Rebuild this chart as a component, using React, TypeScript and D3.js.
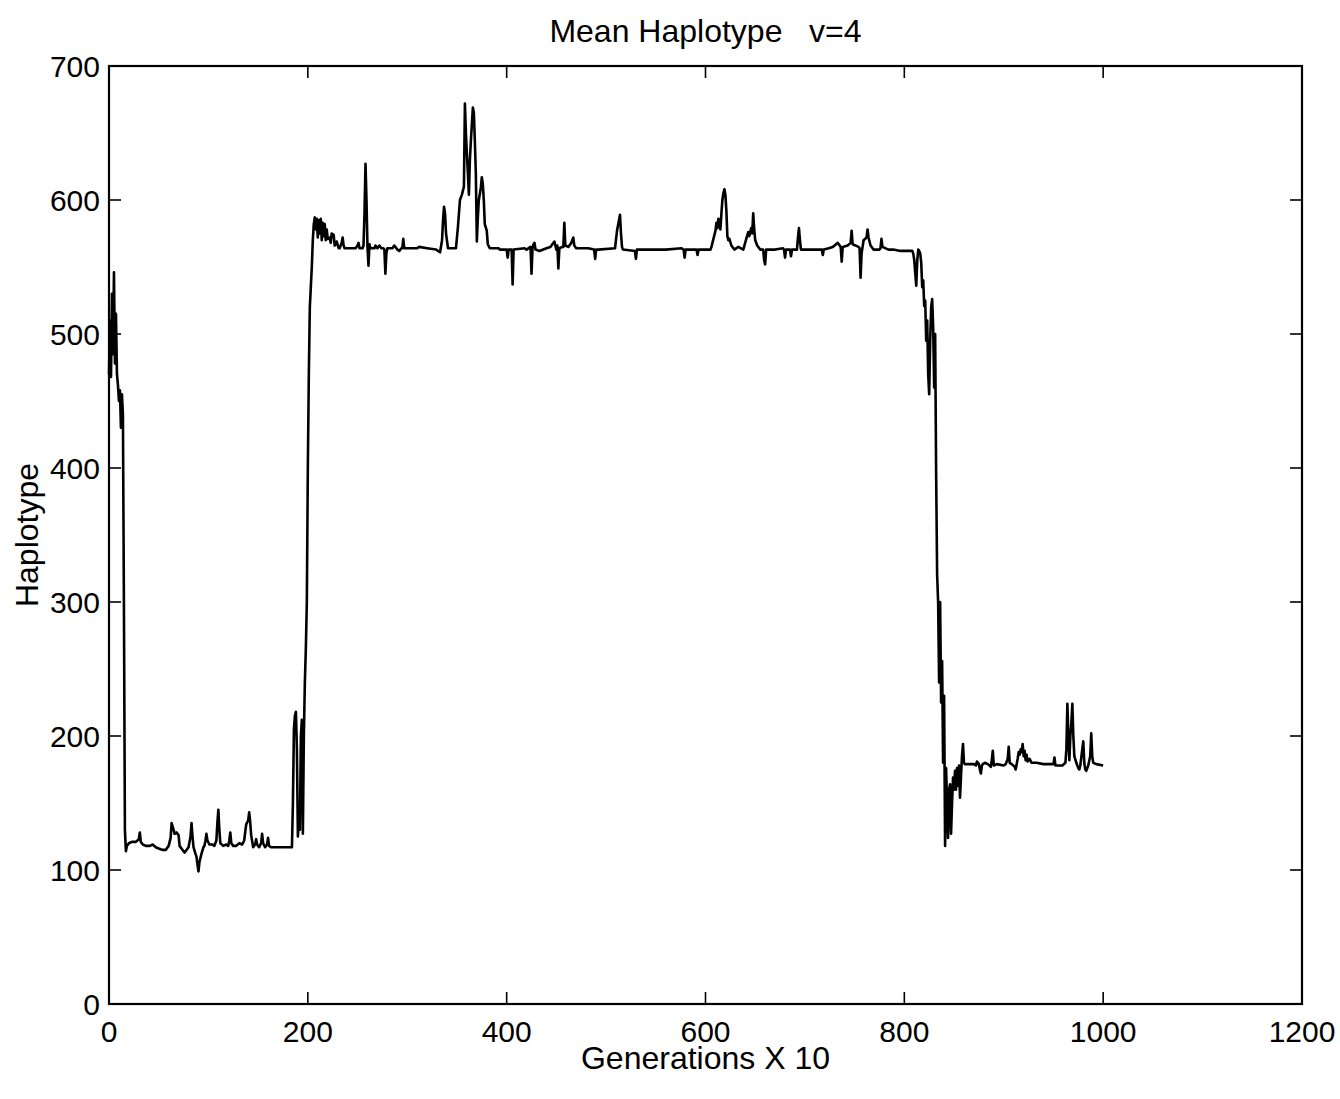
import React from "react";
import * as d3 from "d3";

const xTicks = [0, 200, 400, 600, 800, 1000, 1200];
const yTicks = [0, 100, 200, 300, 400, 500, 600, 700];

const startSeg: [number, number][] = [
  [0, 470], [1, 510], [2, 468], [3, 530], [4, 485], [5, 546], [6, 478], [7, 515], [8, 470],
  [9, 462], [10, 450], [11, 458], [12, 430], [13, 455], [14, 440], [15, 300], [16, 130], [17, 114],
];

const lowSeg: [number, number][] = [
  [18, 118], [20, 120], [23, 121], [27, 121], [30, 123], [31, 128], [32, 121], [34, 119], [37, 118],
  [41, 118], [44, 119], [47, 117], [50, 116], [54, 115], [57, 115], [60, 118], [62, 124], [63, 135],
  [65, 130], [66, 127], [68, 128], [70, 126], [71, 118], [74, 115], [76, 113], [78, 115], [80, 117],
  [82, 125], [83, 135], [84, 125], [85, 117], [87, 112], [88, 110], [89, 104], [90, 99], [91, 106],
  [93, 112], [95, 117], [96, 118], [97, 122], [98, 127], [99, 122], [101, 119], [104, 119], [106, 118],
  [108, 122], [109, 135], [110, 145], [111, 130], [112, 120], [115, 118], [118, 119], [120, 118],
  [121, 122], [122, 128], [123, 120], [125, 118], [128, 118], [131, 120], [134, 119], [136, 122],
  [138, 134], [140, 137], [141, 143], [142, 136], [143, 126], [145, 117], [147, 119], [148, 123],
  [149, 119], [151, 117], [153, 120], [154, 127], [155, 120], [157, 117], [159, 119], [160, 124],
  [161, 118], [163, 117], [165, 117], [184, 117],
];

const riseSeg: [number, number][] = [
  [185, 150], [186, 205], [187, 215], [188, 218], [189, 190], [190, 125], [191, 140], [192, 130],
  [193, 200], [194, 212], [195, 127], [196, 200], [197, 240], [198, 265], [199, 300], [200, 400],
  [201, 470], [202, 520], [203, 535], [204, 550], [205, 570], [206, 582],
];

const highSegA: [number, number][] = [
  [207, 587], [208, 578], [209, 586], [210, 572], [211, 585], [212, 575], [213, 586], [214, 570],
  [215, 583], [216, 573], [217, 582], [218, 570], [219, 578], [220, 571], [222, 572], [223, 568],
  [224, 575], [226, 574], [227, 566], [229, 569], [231, 564], [232, 564], [234, 568], [235, 572],
  [236, 566], [237, 564], [245, 564], [248, 564], [250, 566], [251, 568], [252, 564], [255, 564],
  [256, 566], [257, 590], [258, 627], [259, 600], [260, 565], [261, 551], [262, 567], [263, 564],
  [265, 564], [267, 564], [268, 566], [270, 564], [272, 566], [274, 564], [276, 564], [277, 563],
  [278, 545], [279, 560], [280, 564], [285, 564], [287, 566], [290, 563], [292, 562], [294, 564],
  [295, 564], [296, 571], [297, 564], [300, 564], [310, 564], [312, 565], [320, 564], [329, 563],
  [333, 561], [335, 570], [336, 585], [337, 595], [338, 590], [339, 575], [341, 564], [349, 564],
  [351, 580], [353, 600], [355, 604], [357, 610], [358, 672], [359, 650], [360, 634], [361, 620],
  [362, 604], [363, 630], [364, 644], [366, 669], [367, 665], [368, 644], [369, 620], [370, 569],
  [371, 587], [372, 600], [374, 609], [375, 617], [376, 612], [377, 600], [378, 582], [380, 577],
  [381, 567], [383, 564], [392, 564],
];

const highSegB: [number, number][] = [
  [393, 563], [400, 563], [401, 557], [402, 563], [405, 563], [406, 537], [407, 563], [418, 564],
  [420, 563], [424, 565], [425, 545], [426, 564], [427, 567], [428, 568], [429, 563], [433, 562],
  [440, 564], [444, 565], [446, 567], [448, 569], [449, 566], [450, 563], [451, 566], [452, 549],
  [453, 564], [456, 565], [457, 565], [458, 583], [459, 566], [462, 565], [465, 568], [467, 572],
  [468, 566], [470, 564], [482, 564], [488, 563], [489, 556], [490, 563], [492, 563], [509, 564],
  [511, 577], [513, 585], [514, 589], [515, 575], [516, 565], [517, 563], [529, 562], [530, 556],
  [531, 563], [560, 563], [576, 564], [578, 563], [579, 557], [580, 563], [591, 563], [592, 559],
  [593, 563], [605, 563], [606, 565], [608, 571], [610, 577], [611, 583], [612, 579], [613, 586],
  [614, 584], [615, 578], [616, 590], [617, 600], [618, 605], [619, 608], [620, 604], [621, 592],
  [622, 573], [623, 570], [624, 571], [626, 566], [629, 563], [633, 565], [638, 563], [641, 571],
  [643, 576], [644, 573], [646, 579], [647, 575], [648, 590], [649, 578], [650, 570], [652, 566],
  [655, 563], [658, 563], [659, 555], [660, 552], [661, 563], [670, 563], [678, 564], [679, 563],
  [680, 557], [681, 563], [685, 563], [686, 558], [687, 563], [692, 563], [693, 572], [694, 579],
  [695, 570], [696, 563], [700, 563], [717, 563], [718, 559], [719, 563], [724, 564], [728, 565],
  [733, 568], [735, 566], [736, 565], [737, 554], [738, 565], [743, 566], [746, 568], [747, 577],
  [748, 567], [754, 565], [755, 564], [756, 542], [757, 560], [759, 570], [762, 572], [763, 578],
  [764, 572], [766, 566], [769, 563], [775, 563], [776, 564], [777, 571], [778, 565], [784, 563],
  [789, 563], [796, 562], [802, 562], [808, 562],
];

const dropSeg: [number, number][] = [
  [809, 560], [810, 555], [811, 545], [812, 536], [813, 555], [814, 563], [815, 562], [816, 560],
  [817, 553], [818, 535], [819, 540], [820, 521], [821, 525], [822, 495], [823, 510], [824, 470],
  [825, 455], [826, 495], [827, 520], [828, 526], [829, 505], [830, 460], [831, 500], [832, 395],
  [833, 320], [834, 300],
];

const tailSeg: [number, number][] = [
  [835, 240], [836, 300], [837, 225], [838, 256], [839, 180], [840, 230], [841, 118], [842, 176],
  [843, 150], [844, 124], [845, 160], [846, 164], [847, 127], [848, 150], [849, 169], [850, 160],
  [851, 174], [852, 160], [853, 176], [854, 163], [855, 178], [856, 154], [857, 170], [858, 185],
  [859, 194], [860, 180], [861, 179], [870, 179], [872, 178], [873, 181], [875, 179], [876, 175],
  [877, 172], [878, 178], [879, 179], [881, 180], [884, 179], [887, 177], [888, 182], [889, 189],
  [890, 178], [893, 179], [900, 178], [902, 179], [904, 183], [905, 192], [906, 180], [908, 179],
  [911, 177], [912, 175], [914, 183], [915, 188], [916, 186], [917, 190], [918, 188], [919, 194],
  [920, 185], [921, 189], [922, 182], [923, 186], [924, 181], [926, 183], [928, 180], [933, 180],
  [940, 179], [946, 179], [950, 179], [951, 184], [952, 178], [959, 178], [962, 180], [963, 190],
  [964, 224], [965, 200], [966, 182], [967, 200], [968, 210], [969, 224], [970, 200], [971, 185],
  [973, 180], [975, 176], [976, 175], [977, 178], [979, 190], [980, 196], [981, 180], [982, 175],
  [983, 174], [985, 178], [987, 185], [988, 202], [989, 185], [990, 180], [993, 179], [1000, 178],
];

const series: [number, number][] = [
  ...startSeg, ...lowSeg, ...riseSeg, ...highSegA, ...highSegB, ...dropSeg, ...tailSeg,
];

const W = 1340;
const H = 1099;
const L = 109, R = 1302, T = 66, B = 1004;
const FONT = "'Liberation Sans', Arial, Helvetica, sans-serif";

export default function App() {
  const x = d3.scaleLinear().domain([0, 1200]).range([L, R]);
  const y = d3.scaleLinear().domain([0, 700]).range([B, T]);
  const line = d3.line<[number, number]>().x((d) => x(d[0])).y((d) => y(d[1]));
  const tick = 12;

  return (
    <svg
      width={W}
      height={H}
      style={{ position: "absolute", left: 0, top: 0, background: "#fff" }}
      fontFamily={FONT}
    >
      <rect x={0} y={0} width={W} height={H} fill="#fff" />
      <path d={line(series) || ""} fill="none" stroke="#000" strokeWidth={2.6} strokeLinejoin="round" />
      <rect x={L} y={T} width={R - L} height={B - T} fill="none" stroke="#000" strokeWidth={2.2} />
      {xTicks.map((t) => (
        <g key={"x" + t}>
          <line x1={x(t)} x2={x(t)} y1={B} y2={B - tick} stroke="#000" strokeWidth={1.6} />
          <line x1={x(t)} x2={x(t)} y1={T} y2={T + tick} stroke="#000" strokeWidth={1.6} />
          <text x={x(t)} y={1042} textAnchor="middle" fontSize={30}>{t}</text>
        </g>
      ))}
      {yTicks.map((t) => (
        <g key={"y" + t}>
          <line x1={L} x2={L + tick} y1={y(t)} y2={y(t)} stroke="#000" strokeWidth={1.6} />
          <line x1={R} x2={R - tick} y1={y(t)} y2={y(t)} stroke="#000" strokeWidth={1.6} />
          <text x={100} y={y(t)} dy="0.36em" textAnchor="end" fontSize={30}>{t}</text>
        </g>
      ))}
      <text x={(L + R) / 2} y={42} textAnchor="middle" fontSize={32} style={{ whiteSpace: "pre" }}>
        {"Mean Haplotype   v=4"}
      </text>
      <text x={(L + R) / 2} y={1069} textAnchor="middle" fontSize={32}>Generations X 10</text>
      <text
        transform={`translate(38, ${(T + B) / 2}) rotate(-90)`}
        textAnchor="middle"
        fontSize={32}
      >
        Haplotype
      </text>
    </svg>
  );
}
